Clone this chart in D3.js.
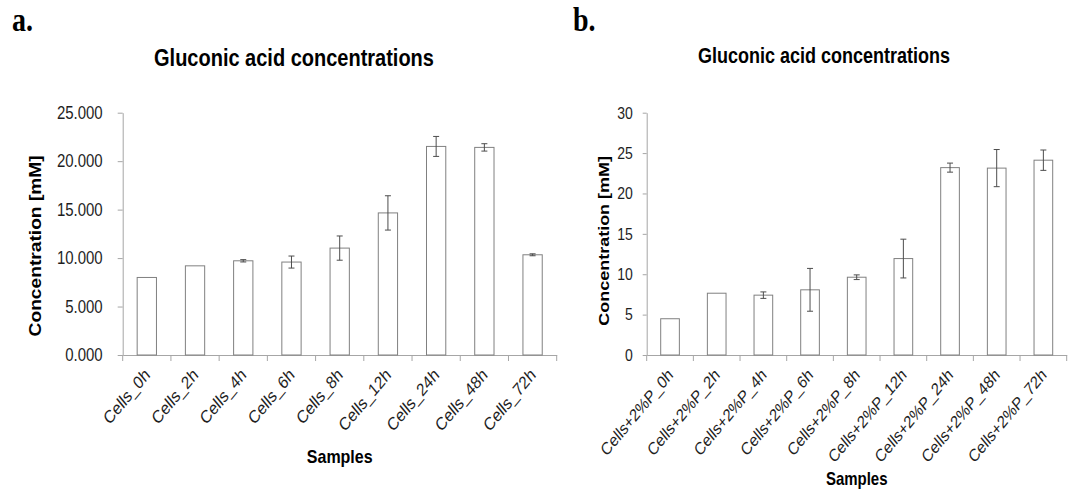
<!DOCTYPE html>
<html>
<head>
<meta charset="utf-8">
<script src="https://cdn.jsdelivr.net/npm/d3@7"></script>
<style>
  body { margin: 0; background: #fff; }
</style>
</head>
<body>
<div id="chart"></div>
<script>
// Datos
const catsA = ["Cells_0h", "Cells_2h", "Cells_4h", "Cells_6h", "Cells_8h", "Cells_12h", "Cells_24h", "Cells_48h", "Cells_72h"];
const valsA = [8.00, 9.20, 9.72, 9.59, 11.03, 14.66, 21.52, 21.42, 10.34];
const errA  = [0, 0, 0.12, 0.62, 1.25, 1.77, 1.03, 0.38, 0.10];
const ticksA = [0, 5, 10, 15, 20, 25];

const catsB = ["Cells+2%P_0h", "Cells+2%P_2h", "Cells+2%P_4h", "Cells+2%P_6h", "Cells+2%P_8h", "Cells+2%P_12h", "Cells+2%P_24h", "Cells+2%P_48h", "Cells+2%P_72h"];
const valsB = [4.49, 7.65, 7.41, 8.07, 9.63, 11.94, 23.20, 23.14, 24.12];
const errB  = [0, 0, 0.40, 2.65, 0.29, 2.40, 0.56, 2.30, 1.26];
const ticksB = [0, 5, 10, 15, 20, 25, 30];

const title = "Gluconic acid concentrations";
const yTitle = "Concentration [mM]";
const xTitle = "Samples";

// the source figure is stretched vertically, text too
const SY = 1.2;

const svg = d3.select("#chart")
    .append("svg")
    .attr("width", 1072)
    .attr("height", 492)
    .style("font-family", "Arial, 'Liberation Sans', sans-serif");

function panel(p) {
    const x = d3.scaleBand().domain(p.cats).range([p.left, p.right]);
    const y = d3.scaleLinear().domain([0, d3.max(p.ticks)]).range([p.bottom, p.top]);
    const bw = x.bandwidth();
    const barW = bw * 0.4;

    // Eje Y
    const ya = svg.append("g")
        .attr("transform", `translate(${p.left},0)`)
        .call(d3.axisLeft(y).tickValues(p.ticks).tickFormat(d3.format(p.fmt))
            .tickSize(p.tick).tickSizeOuter(0).tickPadding(p.pad));
    ya.selectAll("path, line").attr("stroke", "#a6a6a6");
    ya.selectAll("text")
        .attr("font-size", p.fs)
        .attr("fill", "#1e1e1e")
        .attr("transform", `scale(1,${SY})`);

    // Eje X
    const xa = svg.append("g")
        .attr("transform", `translate(0,${p.bottom})`)
        .call(d3.axisBottom(x).tickSize(0).tickSizeOuter(0));
    xa.select("path").attr("stroke", "#a6a6a6");
    xa.selectAll("text")
        .attr("font-size", p.xfs)
        .attr("fill", "#1e1e1e")
        .attr("text-anchor", "end")
        .attr("y", 0)
        .attr("dy", 0)
        .attr("transform", `translate(4,21) scale(1,${SY}) rotate(-45)`);

    // marcas entre categorias
    const bounds = p.cats.map(d => x(d)).concat([x.range()[1]]);
    svg.append("g").selectAll("line")
        .data(bounds)
        .enter().append("line")
        .attr("x1", d => d).attr("x2", d => d)
        .attr("y1", p.bottom).attr("y2", p.bottom + 6)
        .attr("stroke", "#a6a6a6");

    // Barras
    const rows = p.cats.map((c, i) => ({ c, v: p.vals[i], e: p.errs[i] }));
    svg.append("g").selectAll("rect")
        .data(rows)
        .enter().append("rect")
        .attr("x", d => x(d.c) + (bw - barW) / 2)
        .attr("y", d => y(d.v))
        .attr("width", barW)
        .attr("height", d => p.bottom - y(d.v))
        .attr("fill", "#fff")
        .attr("stroke", "#808080")
        .attr("stroke-width", 1);

    // barras de error
    const eg = svg.append("g").attr("stroke", "#4d4d4d").attr("stroke-width", 1)
        .selectAll("g")
        .data(rows.filter(d => d.e > 0))
        .enter().append("g")
        .attr("transform", d => `translate(${x(d.c) + bw / 2},0)`);
    eg.append("line")
        .attr("y1", d => y(d.v - d.e)).attr("y2", d => y(d.v + d.e));
    eg.append("line")
        .attr("x1", -3).attr("x2", 3)
        .attr("y1", d => y(d.v + d.e)).attr("y2", d => y(d.v + d.e));
    eg.append("line")
        .attr("x1", -3).attr("x2", 3)
        .attr("y1", d => y(d.v - d.e)).attr("y2", d => y(d.v - d.e));

    // Titulos
    svg.append("text")
        .attr("transform", `translate(${p.titleX},${p.titleY}) scale(1,${SY})`)
        .attr("text-anchor", "middle")
        .attr("font-size", p.tfs)
        .attr("font-weight", "bold")
        .text(title);

    svg.append("text")
        .attr("transform", `translate(${p.ytX},${(p.top + p.bottom) / 2 + p.ytDy}) scale(1,${SY}) rotate(-90)`)
        .attr("text-anchor", "middle")
        .attr("font-size", p.afs)
        .attr("font-weight", "bold")
        .text(yTitle);

    svg.append("text")
        .attr("transform", `translate(${(p.left + p.right) / 2},${p.xtY}) scale(1,${SY})`)
        .attr("text-anchor", "middle")
        .attr("font-size", p.afs)
        .attr("font-weight", "bold")
        .text(xTitle);

    svg.append("text")
        .attr("transform", `translate(${p.tagX},31) scale(1,${SY})`)
        .attr("font-family", "'Liberation Serif', 'Times New Roman', serif")
        .attr("font-size", 28)
        .attr("font-weight", "bold")
        .text(p.tag);
}

panel({
    cats: catsA, vals: valsA, errs: errA, ticks: ticksA, fmt: ".3f",
    left: 122.7, right: 556.7, top: 112.7, bottom: 355,
    tick: 5, pad: 15, fs: 15, xfs: 15, tfs: 20, afs: 16,
    titleX: 294, titleY: 66, ytX: 41, ytDy: 12, xtY: 463,
    tagX: 12, tag: "a."
});

panel({
    cats: catsB, vals: valsB, errs: errB, ticks: ticksB, fmt: "d",
    left: 646.7, right: 1066.7, top: 112.7, bottom: 355,
    tick: 4, pad: 10, fs: 14, xfs: 14.5, tfs: 18, afs: 15,
    titleX: 824, titleY: 63, ytX: 609, ytDy: 7, xtY: 485,
    tagX: 573, tag: "b."
});
</script>
</body>
</html>
